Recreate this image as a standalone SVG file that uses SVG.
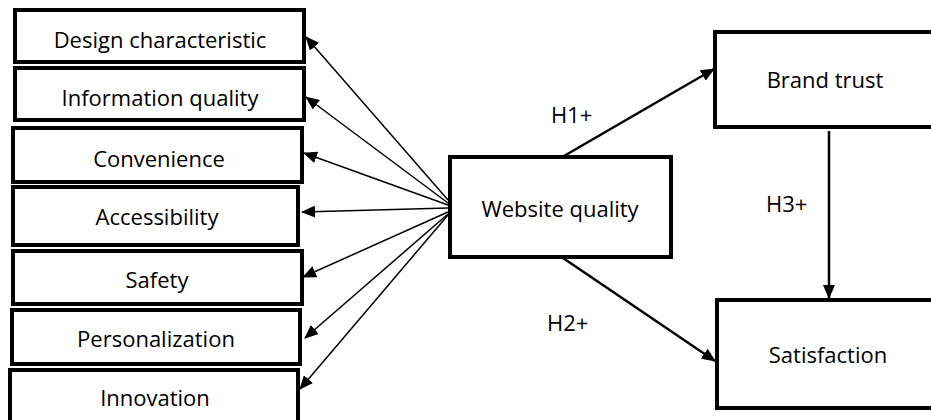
<svg xmlns="http://www.w3.org/2000/svg" width="931" height="420" viewBox="0 0 931 420">
<style>
.box{fill:#fff;stroke:#000;stroke-width:4}
.t{font-family:"Open Sans","Liberation Sans",sans-serif;font-size:22px;fill:#000;text-anchor:middle}
.lbl{font-family:"Open Sans","Liberation Sans",sans-serif;font-size:22px;fill:#000}
.fan{stroke:#000;stroke-width:1.5;fill:none;marker-end:url(#ah)}
.main{stroke:#000;stroke-width:2.5;fill:none;marker-end:url(#ah)}
</style>
<defs>
<marker id="ah" markerWidth="14" markerHeight="12" refX="13" refY="6" orient="auto" markerUnits="userSpaceOnUse">
<path d="M0,0 L14,6 L0,12 Z" fill="#000"/>
</marker>
</defs>
<g id="n-design"><rect class="box" x="15" y="10" width="289" height="52"/><text class="t" x="160" y="48">Design characteristic</text></g>
<g id="n-info"><rect class="box" x="15" y="68" width="289" height="52"/><text class="t" x="160" y="106">Information quality</text></g>
<g id="n-conv"><rect class="box" x="13" y="128" width="289" height="54"/><text class="t" x="159" y="167">Convenience</text></g>
<g id="n-access"><rect class="box" x="13" y="187" width="285" height="58"/><text class="t" x="157" y="225">Accessibility</text></g>
<g id="n-safety"><rect class="box" x="13" y="251" width="289" height="53"/><text class="t" x="157" y="288">Safety</text></g>
<g id="n-person"><rect class="box" x="12" y="310" width="288" height="54"/><text class="t" x="156" y="347">Personalization</text></g>
<g id="n-innov"><rect class="box" x="10" y="370" width="288" height="60"/><text class="t" x="155" y="406">Innovation</text></g>
<g id="n-web"><rect class="box" x="450" y="157" width="221" height="100"/><text class="t" x="560" y="217">Website quality</text></g>
<g id="n-brand"><rect class="box" x="715" y="32" width="230" height="95"/><text class="t" x="825" y="88">Brand trust</text></g>
<g id="n-sat"><rect class="box" x="717" y="300" width="230" height="108"/><text class="t" x="828" y="363">Satisfaction</text></g>
<g id="connectors">
<line class="fan" x1="448" y1="200" x2="306" y2="37"/>
<line class="fan" x1="448" y1="203" x2="306" y2="97"/>
<line class="fan" x1="448" y1="205" x2="304" y2="153"/>
<line class="fan" x1="448" y1="208" x2="302" y2="212"/>
<line class="fan" x1="448" y1="212" x2="303" y2="277"/>
<line class="fan" x1="448" y1="214" x2="305" y2="338"/>
<line class="fan" x1="448" y1="215" x2="300" y2="389"/>
<line class="main" x1="564" y1="156" x2="714" y2="69"/>
<line class="main" x1="563" y1="258" x2="715" y2="361"/>
<line class="main" x1="829" y1="131" x2="829" y2="298"/>
</g>
<text class="lbl" x="551" y="123">H1+</text>
<text class="lbl" x="547" y="331">H2+</text>
<text class="lbl" x="766" y="212">H3+</text>
</svg>
